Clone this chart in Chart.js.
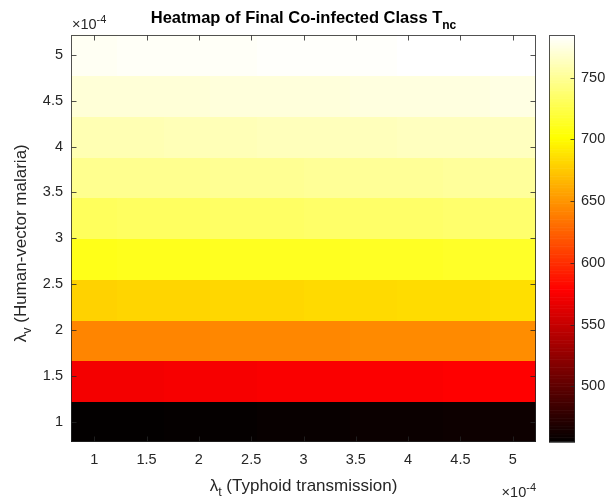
<!DOCTYPE html>
<html>
<head>
<meta charset="utf-8">
<script src="https://cdn.jsdelivr.net/npm/chart.js@4.4.1/dist/chart.umd.min.js"></script>
<style>
  html, body { margin: 0; padding: 0; background: #ffffff; }
  #wrap { position: relative; width: 607px; height: 501px; }
  canvas { display: block; }
</style>
</head>
<body>
<div id="wrap"><canvas id="c" width="607" height="501"></canvas></div>
<script>
// ---- data (parameters in units of 1e-4) ----
const tLambda = [1.0000, 1.4444, 1.8889, 2.3333, 2.7778, 3.2222, 3.6667, 4.1111, 4.5556, 5.0000];
const vLambda = [1.0000, 1.4444, 1.8889, 2.3333, 2.7778, 3.2222, 3.6667, 4.1111, 4.5556, 5.0000];
// final co-infected class T_nc, one row per vLambda (bottom to top), one column per tLambda
const T_nc = [
  [455.0, 455.7, 456.3, 457.0, 457.7, 458.4, 459.0, 459.7, 460.3, 461.0],
  [572.5, 573.2, 573.8, 574.5, 575.2, 575.8, 576.5, 577.2, 577.8, 578.5],
  [642.0, 642.4, 642.9, 643.3, 643.8, 644.2, 644.7, 645.1, 645.6, 646.0],
  [680.0, 680.7, 681.3, 682.0, 682.7, 683.3, 684.0, 684.7, 685.3, 686.0],
  [710.0, 710.6, 711.1, 711.7, 712.2, 712.8, 713.3, 713.9, 714.4, 715.0],
  [732.0, 732.6, 733.1, 733.7, 734.2, 734.8, 735.3, 735.9, 736.4, 737.0],
  [748.0, 748.4, 748.9, 749.3, 749.8, 750.2, 750.7, 751.1, 751.6, 752.0],
  [760.0, 760.4, 760.9, 761.3, 761.8, 762.2, 762.7, 763.1, 763.6, 764.0],
  [771.0, 771.4, 771.9, 772.3, 772.8, 773.2, 773.7, 774.1, 774.6, 775.0],
  [781.0, 781.4, 781.9, 782.3, 782.8, 783.2, 783.7, 784.1, 784.6, 785.0]
];
const xTicks = [1, 1.5, 2, 2.5, 3, 3.5, 4, 4.5, 5];
const yTicks = [1, 1.5, 2, 2.5, 3, 3.5, 4, 4.5, 5];
const cbTicks = [500, 550, 600, 650, 700, 750];
const cLim = [455, 785];
const gridLim = [0.7778, 5.2222];

const titleText = 'Heatmap of Final Co-infected Class T';
const titleSub = 'nc';
const xLabelParts = ['\u03bb', 't', ' (Typhoid transmission)'];
const yLabelParts = ['\u03bb', 'v', ' (Human-vector malaria)'];
const expBase = '\u00d710';
const expPow = '-4';

// ---- MATLAB hot(256) colormap ----
const NMAP = 256;
function hotIndexColor(i) { // i: 1..256
  const n1 = 96, n2 = 96, n3 = 64;
  const r = Math.min(1, i / n1);
  const g = Math.max(0, Math.min(1, (i - n1) / n2));
  const b = Math.max(0, Math.min(1, (i - n1 - n2) / n3));
  return 'rgb(' + Math.round(r * 255) + ',' + Math.round(g * 255) + ',' + Math.round(b * 255) + ')';
}
function hotColor(v) {
  let idx = Math.floor((v - cLim[0]) / (cLim[1] - cLim[0]) * NMAP) + 1;
  idx = Math.max(1, Math.min(NMAP, idx));
  return hotIndexColor(idx);
}

const cells = [];
vLambda.forEach((v, i) => tLambda.forEach((t, j) => cells.push({ x: t, y: v, c: T_nc[i][j] })));

const FONT = '"Liberation Sans", Arial, Helvetica, sans-serif';
const TXT = '#262626';
const TICKFS = 14.5;
const LABFS = 17;
const TITLEFS = 16.5;

function drawParts(ctx, parts, x, y, align) {
  let total = 0;
  parts.forEach(p => {
    ctx.font = (p.bold ? 'bold ' : '') + p.size + 'px ' + FONT;
    p.w = ctx.measureText(p.text).width;
    total += p.w;
  });
  let cx = align === 'center' ? x - total / 2 : (align === 'right' ? x - total : x);
  ctx.textAlign = 'left';
  ctx.textBaseline = 'alphabetic';
  parts.forEach(p => {
    ctx.font = (p.bold ? 'bold ' : '') + p.size + 'px ' + FONT;
    ctx.fillText(p.text, cx, y + (p.dy || 0));
    cx += p.w;
  });
}

const heatPlugin = {
  id: 'heat',
  beforeDatasetsDraw(chart) {
    const ctx = chart.ctx;
    const xs = chart.scales.x, ys = chart.scales.y;
    const meta = chart.getDatasetMeta(0);
    const hw = Math.abs(xs.getPixelForValue(tLambda[1]) - xs.getPixelForValue(tLambda[0])) / 2;
    const hh = Math.abs(ys.getPixelForValue(vLambda[1]) - ys.getPixelForValue(vLambda[0])) / 2;
    const a = chart.chartArea;
    ctx.save();
    ctx.beginPath();
    ctx.rect(a.left, a.top, a.right - a.left, a.bottom - a.top);
    ctx.clip();
    meta.data.forEach((el, k) => {
      const l = Math.floor(el.x - hw + 0.5), r = Math.ceil(el.x + hw - 0.5) + 1;
      const t = Math.floor(el.y - hh + 0.5), b = Math.ceil(el.y + hh - 0.5) + 1;
      ctx.fillStyle = hotColor(cells[k].c);
      ctx.fillRect(l, t, r - l, b - t);
    });
    ctx.restore();
  },
  afterDraw(chart) {
    const ctx = chart.ctx;
    const a = chart.chartArea;
    const xs = chart.scales.x, ys = chart.scales.y, cb = chart.scales.cb;
    ctx.save();
    ctx.strokeStyle = 'rgba(38,38,38,0.8)';
    ctx.lineWidth = 1;
    const L = Math.round(a.left) + 0.5, R = Math.round(a.right) - 0.5;
    const T = Math.round(a.top) + 0.5, B = Math.round(a.bottom) - 0.5;
    ctx.strokeRect(L, T, R - L, B - T);
    const tl = 5;
    ctx.beginPath();
    xTicks.forEach(v => {
      const px = Math.round(xs.getPixelForValue(v)) + 0.5;
      ctx.moveTo(px, B); ctx.lineTo(px, B - tl);
      ctx.moveTo(px, T); ctx.lineTo(px, T + tl);
    });
    yTicks.forEach(v => {
      const py = Math.round(ys.getPixelForValue(v)) + 0.5;
      ctx.moveTo(L, py); ctx.lineTo(L + tl, py);
      ctx.moveTo(R, py); ctx.lineTo(R - tl, py);
    });
    ctx.stroke();

    // colorbar
    const cbL = 549, cbR = 575;
    for (let i = 0; i < NMAP; i++) {
      const v0 = cLim[0] + i * (cLim[1] - cLim[0]) / NMAP;
      const v1 = cLim[0] + (i + 1) * (cLim[1] - cLim[0]) / NMAP;
      const y0 = cb.getPixelForValue(v1), y1 = cb.getPixelForValue(v0);
      ctx.fillStyle = hotIndexColor(i + 1);
      ctx.fillRect(cbL, y0, cbR - cbL, y1 - y0 + 0.6);
    }
    ctx.strokeStyle = 'rgba(38,38,38,0.8)';
    const cT = Math.round(cb.top) + 0.5, cB = Math.round(cb.bottom) - 0.5;
    ctx.strokeRect(cbL + 0.5, cT, cbR - cbL - 1, cB - cT);
    ctx.beginPath();
    cbTicks.forEach(v => {
      const py = Math.round(cb.getPixelForValue(v)) + 0.5;
      ctx.moveTo(cbR - 0.5, py); ctx.lineTo(cbR - 4.5, py);
    });
    ctx.stroke();

    // texts
    ctx.fillStyle = '#000000';
    const cx = (a.left + a.right) / 2;
    drawParts(ctx, [
      { text: titleText, size: TITLEFS, bold: true },
      { text: titleSub, size: 12, bold: true, dy: 6 }
    ], cx, 23, 'center');

    ctx.fillStyle = TXT;
    drawParts(ctx, [
      { text: xLabelParts[0], size: LABFS },
      { text: xLabelParts[1], size: 12.5, dy: 5 },
      { text: xLabelParts[2], size: LABFS }
    ], cx, 491, 'center');

    ctx.save();
    ctx.translate(26, (a.top + a.bottom) / 2 + 5);
    ctx.rotate(-Math.PI / 2);
    drawParts(ctx, [
      { text: yLabelParts[0], size: LABFS },
      { text: yLabelParts[1], size: 12.5, dy: 5 },
      { text: yLabelParts[2], size: LABFS }
    ], 0, 0, 'center');
    ctx.restore();

    drawParts(ctx, [
      { text: expBase, size: TICKFS },
      { text: expPow, size: 11, dy: -6 }
    ], a.left + 1, 29, 'left');
    drawParts(ctx, [
      { text: expBase, size: TICKFS },
      { text: expPow, size: 11, dy: -6 }
    ], a.right, 497, 'right');
    ctx.restore();
  }
};

const tickFont = { family: FONT, size: TICKFS };
function noPad(s) { s.paddingTop = 0; s.paddingBottom = 0; s.paddingLeft = 0; s.paddingRight = 0; }

new Chart(document.getElementById('c'), {
  type: 'scatter',
  data: { datasets: [{ data: cells, pointRadius: 0, pointHoverRadius: 0, showLine: false }] },
  options: {
    responsive: false,
    animation: false,
    events: [],
    devicePixelRatio: 1,
    layout: { padding: { top: 34.5, left: 0, right: 0, bottom: 0 } },
    plugins: { legend: { display: false }, tooltip: { enabled: false }, title: { display: false } },
    scales: {
      x: {
        type: 'linear', position: 'bottom', min: gridLim[0], max: gridLim[1],
        afterBuildTicks: s => { s.ticks = xTicks.map(v => ({ value: v })); },
        afterFit: s => { s.height = 59; noPad(s); },
        ticks: { autoSkip: false, maxRotation: 0, font: tickFont, color: TXT, padding: 9, callback: v => String(v) },
        grid: { display: false, drawTicks: false },
        border: { display: false }
      },
      y: {
        type: 'linear', position: 'left', min: gridLim[0], max: gridLim[1],
        afterBuildTicks: s => { s.ticks = yTicks.map(v => ({ value: v })); },
        afterFit: s => { s.width = 71; noPad(s); },
        ticks: { autoSkip: false, font: tickFont, color: TXT, padding: 8, callback: v => String(v) },
        grid: { display: false, drawTicks: false },
        border: { display: false }
      },
      cb: {
        type: 'linear', position: 'right', min: cLim[0], max: cLim[1],
        afterBuildTicks: s => { s.ticks = cbTicks.map(v => ({ value: v })); },
        afterFit: s => { s.width = 71; noPad(s); },
        ticks: { autoSkip: false, font: tickFont, color: TXT, padding: 45, callback: v => String(v) },
        grid: { display: false, drawTicks: false },
        border: { display: false }
      }
    }
  },
  plugins: [heatPlugin]
});
</script>
</body>
</html>
